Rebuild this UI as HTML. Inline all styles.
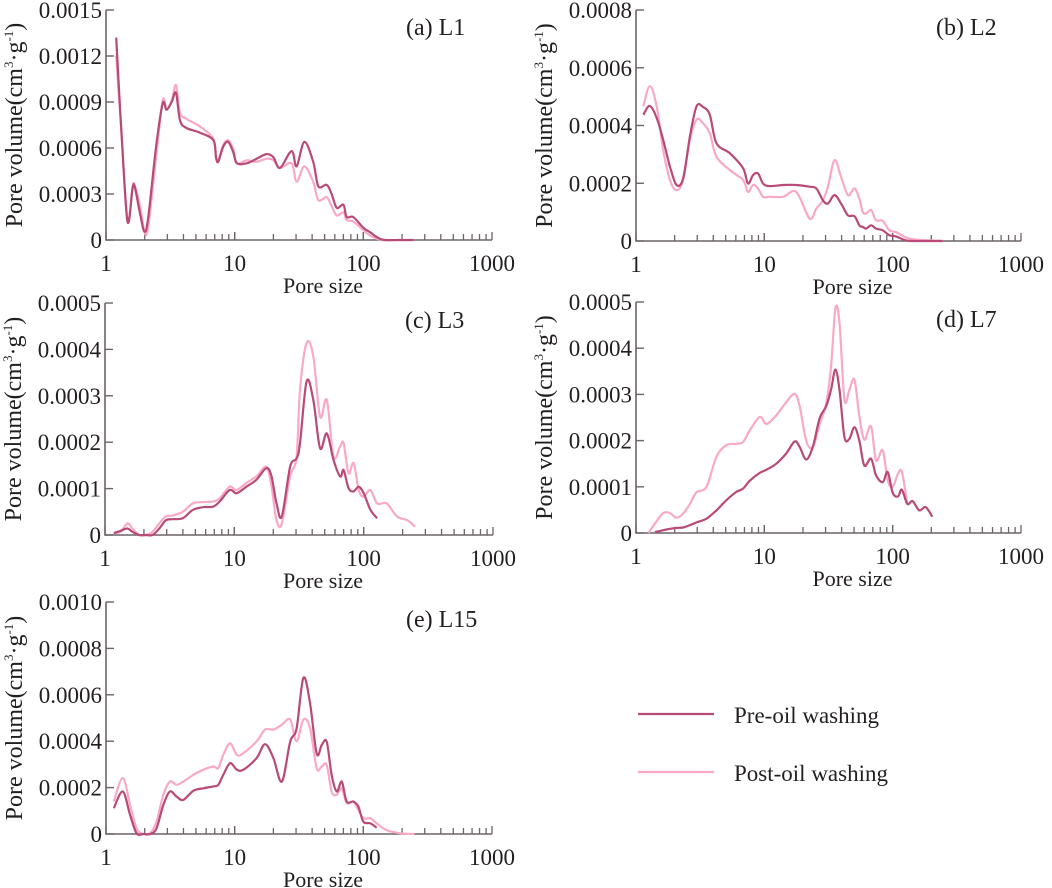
<!DOCTYPE html>
<html><head><meta charset="utf-8"><style>
html,body{margin:0;padding:0;background:#fff;}
svg{display:block;}
text{font-family:"Liberation Serif","Times New Roman",serif;}
</style></head><body>
<svg id="chart" width="1052" height="888" viewBox="0 0 1052 888" xmlns="http://www.w3.org/2000/svg">
<g id="legend">
  <g>
    <line x1="638" y1="714" x2="714" y2="714" stroke="#b84a78" stroke-width="2.2"/>
    <text x="734" y="723" font-size="23" fill="#231f20">Pre-oil washing</text>
  </g>
  <g>
    <line x1="638" y1="772" x2="714" y2="772" stroke="#f9a8c6" stroke-width="2.2"/>
    <text x="734" y="781" font-size="23" fill="#231f20">Post-oil washing</text>
  </g>
</g>
</svg>
<script>
// ---- Panel (a) L1 ----
const sizesA=[1.20,1.32,1.47,1.61,1.68,1.84,1.99,2.13,2.45,2.76,2.96,3.24,3.50,3.76,4.23,5.38,6.83,7.16,7.46,8.16,8.93,9.77,10.4,12.4,14.8,17.7,20.0,22.5,27.7,30.3,34.8,40.8,44.7,51.9,56.7,62.1,70.0,74.2,83.6,100,113,139,193,245];
const preA=[13.2,6.96,1.2,3.4,3.4,1.7,0.54,1.5,6.1,8.9,8.5,9.0,9.6,7.8,7.3,7.0,6.5,5.4,5.1,6.1,6.4,5.7,5.0,5.0,5.3,5.6,5.4,4.7,5.8,4.8,6.4,5.1,3.5,3.6,3.0,2.1,2.3,1.5,1.5,0.8,0.5,0.04,0,0];
const postA=[12.0,6.96,1.3,3.5,3.5,2.2,0.54,0.87,5.4,9.1,8.5,9.1,10.1,8.3,7.9,7.4,6.6,5.4,5.2,6.2,6.5,5.9,5.0,5.2,5.1,5.3,5.2,4.7,5.0,3.8,4.8,3.8,2.6,2.8,2.2,1.6,1.8,1.3,1.2,0.65,0.28,0,0,0];
// ---- Panel (b) L2 ----
const sizesB=[1.14,1.28,1.45,1.63,1.84,2.07,2.33,2.63,2.96,3.33,3.76,4.23,5.38,6.83,7.46,8.16,8.93,9.77,11.0,14.0,17.7,22.5,25.4,28.6,31.3,35.2,39.6,44.8,50.4,55.0,58.4,62.1,68.0,74.2,83.6,94.1,106,127,151,193,245];
const preB=[4.37,4.68,4.26,3.50,2.57,1.94,2.17,3.62,4.66,4.64,4.37,3.39,3.04,2.52,1.99,2.28,2.34,1.99,1.90,1.94,1.94,1.88,1.82,1.41,1.30,1.59,1.30,0.89,0.86,0.54,0.49,0.43,0.54,0.43,0.37,0.20,0.16,0.02,0,0,0];
const postB=[4.66,5.36,4.66,3.15,2.11,1.76,2.11,3.50,4.20,4.08,3.73,2.92,2.46,2.11,1.70,1.94,1.82,1.53,1.53,1.53,1.70,0.78,1.12,1.41,1.88,2.80,2.23,1.59,1.82,1.47,1.01,0.95,1.07,0.72,0.70,0.37,0.31,0.12,0.05,0.02,0];
// ---- Panel (c) L3 ----
const sizesC=[1.17,1.32,1.49,1.63,1.84,2.07,2.33,2.63,2.96,3.33,3.99,4.77,5.71,6.83,7.69,9.21,10.4,12.4,14.8,17.7,19.4,21.2,23.3,27.0,30.3,32.2,36.2,40.8,46.0,51.9,58.4,65.8,70.0,76.4,83.6,91.5,100,113,127,151,181,217,250];
const preC=[0.04,0.09,0.14,0.07,0,0,0,0.14,0.32,0.34,0.36,0.54,0.60,0.61,0.72,0.97,0.90,1.04,1.19,1.44,1.26,0.68,0.40,1.47,1.65,1.98,3.31,2.91,1.87,2.19,1.62,1.26,1.40,1.01,0.94,1.04,0.90,0.54,0.36,null,null,null,null];
const postC=[0.05,0.07,0.25,0.14,0,0,0.07,0.25,0.40,0.42,0.50,0.68,0.71,0.72,0.79,1.04,0.97,1.12,1.26,1.47,1.04,0.32,0.25,1.26,1.69,3.13,4.14,3.85,2.55,2.91,1.69,1.91,1.98,1.33,1.55,0.97,0.83,0.97,0.68,0.68,0.40,0.32,0.18];
// ---- Panel (d) L7 ----
const sizesD=[1.25,1.40,1.63,1.84,2.07,2.33,2.63,2.96,3.54,4.23,5.06,6.06,6.83,7.69,9.21,10.4,12.4,14.8,17.2,18.8,21.2,23.9,27.0,30.3,33.1,35.8,38.5,42.1,46.0,50.4,55.0,60.1,67.8,74.2,83.6,91.5,100,110,118,130,143,161,181,204];
const preD=[null,0.02,0.06,0.09,0.11,0.12,0.17,0.23,0.31,0.49,0.71,0.89,0.96,1.13,1.30,1.37,1.50,1.72,1.98,1.87,1.59,1.87,2.49,2.74,3.10,3.54,3.10,2.08,2.04,2.29,2.00,1.46,1.61,1.25,1.10,1.32,0.87,0.79,0.94,0.63,0.69,0.49,0.56,0.35];
const postD=[0,0.20,0.43,0.43,0.33,0.42,0.63,0.88,1.00,1.65,1.90,1.93,1.97,2.22,2.51,2.36,2.55,2.83,3.01,2.76,2.00,1.86,2.36,2.80,3.59,4.86,4.55,2.89,3.10,3.32,2.53,2.02,2.31,1.57,1.79,1.14,1.00,1.28,1.32,0.63,null,null,null,null];
// ---- Panel (e) L15 ----
const sizesE=[1.15,1.35,1.54,1.73,1.95,2.20,2.47,2.79,3.14,3.54,3.99,4.77,5.71,6.83,7.46,8.16,9.21,10.4,11.7,14.8,17.2,20.0,23.3,27.0,30.3,34.2,38.5,43.4,47.5,51.9,56.7,62.1,68.0,74.2,83.6,91.5,100,113,127,151,193,250];
const preE=[1.11,1.83,0.82,0.03,0,0,0.24,1.25,1.83,1.61,1.47,1.86,1.97,2.05,2.12,2.55,3.05,2.77,2.77,3.27,3.87,3.27,2.26,3.98,4.55,6.73,5.65,3.47,3.83,3.98,2.55,1.83,2.26,1.40,1.40,1.18,0.53,0.46,0.27,null,null,null];
const postE=[1.40,2.41,1.25,0.24,0,0.03,0.53,1.69,2.26,2.12,2.26,2.55,2.77,2.91,2.84,3.41,3.91,3.41,3.49,3.99,4.50,4.50,4.71,4.93,3.99,4.93,4.57,2.84,2.91,2.98,1.83,1.69,1.97,1.33,1.40,1.04,0.68,0.68,0.46,0.17,0.03,0];
// y tick labels
const ticksA=["0","0.0003","0.0006","0.0009","0.0012","0.0015"];
const ticksB=["0","0.0002","0.0004","0.0006","0.0008"];
const ticksC=["0","0.0001","0.0002","0.0003","0.0004","0.0005"];
const ticksE=["0","0.0002","0.0004","0.0006","0.0008","0.0010"];
const xTicks=["1","10","100","1000"];

const panels=[
 {id:"a",label:"(a)  L1",x0:106,x1:492,top:10,bot:240,max:15,ticks:ticksA,sizes:sizesA,pre:preA,post:postA},
 {id:"b",label:"(b)  L2",x0:636,x1:1021,top:10,bot:241,max:8,ticks:ticksB,sizes:sizesB,pre:preB,post:postB},
 {id:"c",label:"(c)  L3",x0:105,x1:493,top:303,bot:535,max:5,ticks:ticksC,sizes:sizesC,pre:preC,post:postC},
 {id:"d",label:"(d)  L7",x0:636,x1:1021,top:302,bot:533,max:5,ticks:ticksC,sizes:sizesD,pre:preD,post:postD},
 {id:"e",label:"(e)  L15",x0:106,x1:492,top:602,bot:834,max:10,ticks:ticksE,sizes:sizesE,pre:preE,post:postE}
];
const NS="http://www.w3.org/2000/svg";
const svg=document.getElementById('chart');
function mk(tag,attrs,parent){const e=document.createElementNS(NS,tag);for(const k in attrs)e.setAttribute(k,attrs[k]);parent.appendChild(e);return e;}
function smoothPath(pts){
  if(pts.length<2)return "";
  let d="M"+pts[0][0].toFixed(1)+","+pts[0][1].toFixed(1);
  for(let i=0;i<pts.length-1;i++){
    const p0=pts[i-1]||pts[i],p1=pts[i],p2=pts[i+1],p3=pts[i+2]||p2;
    const c1x=p1[0]+(p2[0]-p0[0])/6,c1y=p1[1]+(p2[1]-p0[1])/6;
    const c2x=p2[0]-(p3[0]-p1[0])/6,c2y=p2[1]-(p3[1]-p1[1])/6;
    d+=" C"+c1x.toFixed(1)+","+c1y.toFixed(1)+" "+c2x.toFixed(1)+","+c2y.toFixed(1)+" "+p2[0].toFixed(1)+","+p2[1].toFixed(1);
  }
  return d;
}
const axisCol="#6d6466", textCol="#231f20";
panels.forEach(p=>{
  const g=mk('g',{},svg);
  
  
  const xs=v=>p.x0+Math.log10(v)/3*(p.x1-p.x0);
  const ys=v=>p.bot-v/p.max*(p.bot-p.top);
  const ax=mk('path',{d:`M${p.x0},${p.top} V${p.bot} H${p.x1}`,fill:"none",stroke:axisCol,"stroke-width":1.6},g);
  
  
  const n=p.ticks.length-1;
  p.ticks.forEach((t,i)=>{
    const y=ys(p.max*i/n);
    mk('line',{x1:p.x0,x2:p.x0+8,y1:y,y2:y,stroke:axisCol,"stroke-width":1.4},g);
    const tx=mk('text',{x:p.x0-4,y:y+8,"font-size":23,"text-anchor":"end",fill:textCol},g);
    
    
    tx.textContent=t;
  });
  for(let dec=0;dec<3;dec++){
    for(let m=1;m<=10;m++){
      const x=xs(Math.pow(10,dec)*m);
      const len=(m===1||m===10)?8:6;
      mk('line',{x1:x,x2:x,y1:p.bot,y2:p.bot-len,stroke:axisCol,"stroke-width":1.3},g);
    }
  }
  xTicks.forEach((t,i)=>{
    const tx=mk('text',{x:p.x0+i*(p.x1-p.x0)/3,y:p.bot+31,"font-size":23,"text-anchor":"middle",fill:textCol},g);
    
    
    tx.textContent=t;
  });
  const xt=mk('text',{x:(p.x0+p.x1)/2+24,y:p.bot+53,"font-size":22,"text-anchor":"middle",fill:textCol},g);
  
  
  xt.textContent="Pore size";
  const cy=(p.top+p.bot)/2;
  const yt=mk('text',{x:0,y:0,"font-size":24,"text-anchor":"middle",fill:textCol,transform:`translate(${p.x0-84},${cy}) rotate(-90)`},g);
  
  
  yt.innerHTML='Pore volume(cm<tspan font-size="13" dy="-9">3</tspan><tspan dy="9">·g</tspan><tspan font-size="13" dy="-9">-1</tspan><tspan dy="9">)</tspan>';
  const lb=mk('text',{x:p.x0+300,y:p.top+25,"font-size":24,fill:textCol,"xml:space":"preserve"},g);
  
  
  lb.textContent=p.label;
  [["post",p.post,"#f9a8c6"],["pre",p.pre,"#b84a78"]].forEach(([nm,vals,col])=>{
    const pts=[];
    vals.forEach((v,i)=>{if(v!==null)pts.push([xs(p.sizes[i]),ys(v)]);});
    const path=mk('path',{d:smoothPath(pts),fill:"none",stroke:col,"stroke-width":2.2,"stroke-linejoin":"round"},g);
    
    
  });
});
</script>
</body></html>
